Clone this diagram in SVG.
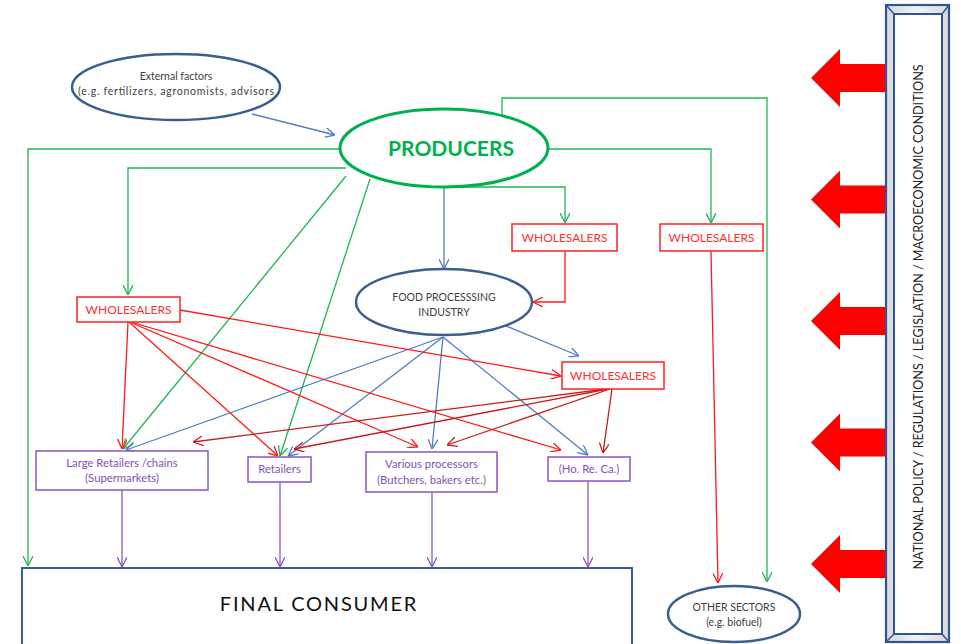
<svg xmlns="http://www.w3.org/2000/svg" width="961" height="644" viewBox="0 0 961 644">
<style>
text{font-family:Lato,"Open Sans","Liberation Sans",sans-serif;text-anchor:middle}
.ell{fill:#fff;stroke:#3a5f8f;stroke-width:2.5}
.wbox{fill:#fff;stroke:#ff2020;stroke-width:1.5}
.wt{fill:#ff3030;font-size:12px}
.pbox{fill:#fff;stroke:#8a56c4;stroke-width:1.5}
.pt{fill:#8052b8;font-size:11.3px}
.gt{fill:#404040;font-size:10.5px}
.cg{fill:none;stroke:#22b455;stroke-width:1.3;marker-end:url(#ag)}
.cb{fill:none;stroke:#4f7fbd;stroke-width:1.3;marker-end:url(#ab)}
.cr{fill:none;stroke:#ff1a1a;stroke-width:1.3;marker-end:url(#ar)}
.cd{fill:none;stroke:#c81e1e;stroke-width:1.3;marker-end:url(#ad)}
.cp{fill:none;stroke:#8a56c4;stroke-width:1.3;marker-end:url(#ap)}
.big{fill:#ff0000}
</style>
<defs>
<marker id="ag" viewBox="0 0 10 10" refX="10" refY="5" markerWidth="10" markerHeight="10" markerUnits="userSpaceOnUse" orient="auto"><path d="M0,0 L10,5 L0,10" fill="none" stroke="#22b455" stroke-width="1.3"/></marker>
<marker id="ab" viewBox="0 0 10 10" refX="10" refY="5" markerWidth="10" markerHeight="10" markerUnits="userSpaceOnUse" orient="auto"><path d="M0,0 L10,5 L0,10" fill="none" stroke="#4f7fbd" stroke-width="1.3"/></marker>
<marker id="ar" viewBox="0 0 10 10" refX="10" refY="5" markerWidth="10" markerHeight="10" markerUnits="userSpaceOnUse" orient="auto"><path d="M0,0 L10,5 L0,10" fill="none" stroke="#ff1a1a" stroke-width="1.3"/></marker>
<marker id="ad" viewBox="0 0 10 10" refX="10" refY="5" markerWidth="10" markerHeight="10" markerUnits="userSpaceOnUse" orient="auto"><path d="M0,0 L10,5 L0,10" fill="none" stroke="#c81e1e" stroke-width="1.3"/></marker>
<marker id="ap" viewBox="0 0 10 10" refX="10" refY="5" markerWidth="10" markerHeight="10" markerUnits="userSpaceOnUse" orient="auto"><path d="M0,0 L10,5 L0,10" fill="none" stroke="#8a56c4" stroke-width="1.3"/></marker>
<linearGradient id="fr" x1="0" y1="0" x2="1" y2="0"><stop offset="0" stop-color="#d9d9d9"/><stop offset="0.5" stop-color="#f2f2f2"/><stop offset="1" stop-color="#d9d9d9"/></linearGradient>
</defs>

<g id="connectors">
<path class="cg" d="M340 149 H28 V566"/>
<path class="cg" d="M346 168 H128 V295"/>
<path class="cg" d="M346 176 L123 449"/>
<path class="cg" d="M370 179 L280 456"/>
<path class="cg" d="M448 187 H565 V223"/>
<path class="cg" d="M548 149 H711 V223"/>
<path class="cg" d="M502 116 V98 H767 V582"/>
<path class="cb" d="M252 114 L335 135"/>
<path class="cb" d="M444 187 V269"/>
<path class="cb" d="M506 326 L579 356"/>
<path class="cb" d="M443 337 L126 450"/>
<path class="cb" d="M443 337 L288 456"/>
<path class="cb" d="M443 337 L432 449"/>
<path class="cb" d="M443 337 L588 455"/>
<path class="cr" d="M180 310 L561 376"/>
<path class="cr" d="M128 322 L122 449"/>
<path class="cr" d="M129 322 L278 456"/>
<path class="cr" d="M130 322 L418 447"/>
<path class="cr" d="M131 322 L561 450"/>
<path class="cr" d="M565 251 V302 H533"/>
<path class="cr" d="M711 251 L718 583"/>
<path class="cd" d="M606 389 L193 442"/>
<path class="cd" d="M608 389 L294 449"/>
<path class="cd" d="M610 389 L447 445"/>
<path class="cd" d="M612 389 L603 453"/>
<path class="cp" d="M122 490 V567"/>
<path class="cp" d="M280 482 V567"/>
<path class="cp" d="M432 492 V567"/>
<path class="cp" d="M588 481 V567"/>
</g>

<g id="external">
<ellipse class="ell" cx="176" cy="87" rx="104" ry="33" stroke-width="2"/>
<text class="gt" x="176" y="80" font-size="11.3">External factors</text>
<text class="gt" x="176" y="94.5" font-size="11.3" textLength="196" lengthAdjust="spacing">(e.g. fertilizers, agronomists, advisors</text>
</g>

<g id="producers">
<ellipse cx="444" cy="148" rx="104" ry="39" fill="#fff" stroke="#00b050" stroke-width="3"/>
<text x="451" y="156" fill="#00b050" font-size="21" font-weight="bold">PRODUCERS</text>
</g>

<g id="food-processing">
<ellipse class="ell" cx="444" cy="302" rx="88" ry="33"/>
<text class="gt" x="444" y="301">FOOD PROCESSSING</text>
<text class="gt" x="444" y="316">INDUSTRY</text>
</g>

<g id="wholesalers-1">
<rect class="wbox" x="77" y="297" width="103" height="25"/>
<text class="wt" x="128.5" y="314">WHOLESALERS</text>
</g>
<g id="wholesalers-2">
<rect class="wbox" x="512" y="224" width="105" height="27"/>
<text class="wt" x="564.5" y="242">WHOLESALERS</text>
</g>
<g id="wholesalers-3">
<rect class="wbox" x="660" y="224" width="103" height="27"/>
<text class="wt" x="711.5" y="242">WHOLESALERS</text>
</g>
<g id="wholesalers-4">
<rect class="wbox" x="562" y="362" width="102" height="27"/>
<text class="wt" x="613" y="380">WHOLESALERS</text>
</g>

<g id="large-retailers">
<rect class="pbox" x="36" y="451" width="172" height="39"/>
<text class="pt" x="122" y="467">Large Retailers /chains</text>
<text class="pt" x="122" y="482">(Supermarkets)</text>
</g>
<g id="retailers">
<rect class="pbox" x="248" y="457" width="63" height="25"/>
<text class="pt" x="279.5" y="473">Retailers</text>
</g>
<g id="various-processors">
<rect class="pbox" x="366" y="452" width="131" height="40"/>
<text class="pt" x="431.5" y="468">Various processors</text>
<text class="pt" x="431.5" y="484">(Butchers, bakers etc.)</text>
</g>
<g id="horeca">
<rect class="pbox" x="548" y="457" width="82" height="24"/>
<text class="pt" x="589" y="473">(Ho. Re. Ca.)</text>
</g>

<g id="final-consumer">
<rect x="22" y="568" width="610" height="80" fill="#fff" stroke="#3a5f8f" stroke-width="2"/>
<text x="319" y="611" fill="#111" font-size="20" letter-spacing="1.8">FINAL CONSUMER</text>
</g>

<g id="other-sectors">
<ellipse class="ell" cx="734" cy="614" rx="66" ry="28"/>
<text class="gt" x="734" y="611">OTHER SECTORS</text>
<text class="gt" x="734" y="626">(e.g. biofuel)</text>
</g>

<g id="policy-arrows">
<path class="big" d="M811 78 L840 49 L840 64 L886 64 L886 92 L840 92 L840 107 Z"/>
<path class="big" d="M811 199.5 L840 170.5 L840 185.5 L886 185.5 L886 213.5 L840 213.5 L840 228.5 Z"/>
<path class="big" d="M811 321 L840 292 L840 307 L886 307 L886 335 L840 335 L840 350 Z"/>
<path class="big" d="M811 442.5 L840 413.5 L840 428.5 L886 428.5 L886 456.5 L840 456.5 L840 471.5 Z"/>
<path class="big" d="M811 564 L840 535 L840 550 L886 550 L886 578 L840 578 L840 593 Z"/>
</g>

<g id="policy">
<rect x="886" y="5" width="63" height="637" fill="url(#fr)" stroke="#2f5597" stroke-width="2.2"/>
<rect x="894" y="14" width="48" height="620" fill="#fff" stroke="#2f5597" stroke-width="2"/>
<path d="M886 5 L894 14 M949 5 L942 14 M886 642 L894 634 M949 642 L942 634" stroke="#2f5597" stroke-width="1.5"/>
<text transform="translate(922.5 317) rotate(-90)" fill="#222" font-size="12.6">NATIONAL POLICY / REGULATIONS / LEGISLATION / MACROECONOMIC CONDITIONS</text>
</g>
</svg>
